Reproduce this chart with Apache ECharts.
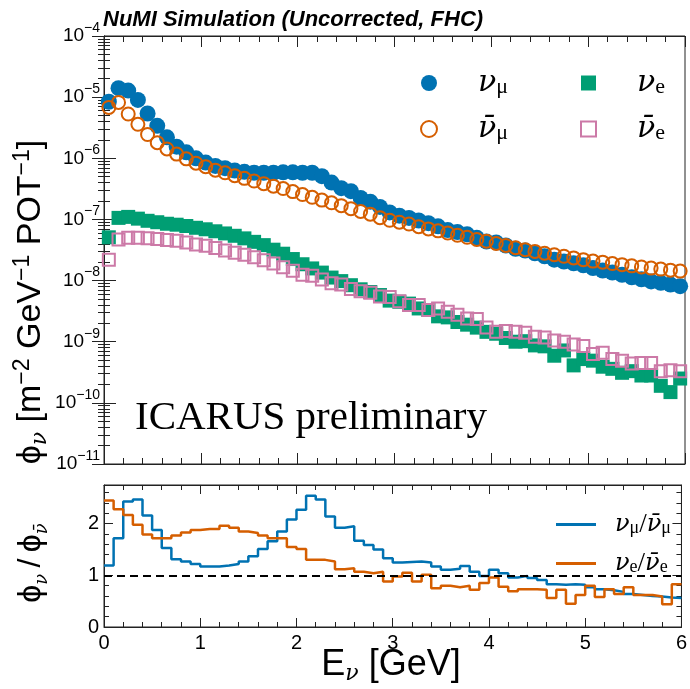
<!DOCTYPE html>
<html><head><meta charset="utf-8">
<script src="https://cdn.jsdelivr.net/npm/echarts@6/dist/echarts.min.js"></script>
<style>html,body{margin:0;padding:0;background:#fff}#c{width:690px;height:689px}</style>
</head><body><div id="c"></div>
<script>
// ---- data ----
const binEdges = [0,0.1,0.2,0.3,0.4,0.5,0.6,0.7,0.8,0.9,1.0,1.1,1.2,1.3,1.4,1.5,1.6,1.7,1.8,1.9,2.0,2.1,2.2,2.3,2.4,2.5,2.6,2.7,2.8,2.9,3.0,3.1,3.2,3.3,3.4,3.5,3.6,3.7,3.8,3.9,4.0,4.1,4.2,4.3,4.4,4.5,4.6,4.7,4.8,4.9,5.0,5.1,5.2,5.3,5.4,5.5,5.6,5.7,5.8,5.9,6.0];
const fluxNumu = [8.4e-6,1.40e-5,1.28e-5,9.0e-6,5.4e-6,3.4e-6,2.2e-6,1.55e-6,1.25e-6,1.0e-6,
 8.5e-7,7.5e-7,6.9e-7,6.3e-7,6.0e-7,5.8e-7,5.8e-7,5.8e-7,5.9e-7,5.9e-7,
 5.8e-7,5.8e-7,5.1e-7,4.0e-7,3.25e-7,2.9e-7,2.25e-7,1.95e-7,1.6e-7,1.3e-7,
 1.15e-7,1.06e-7,9.6e-8,8.7e-8,7.7e-8,6.7e-8,6.2e-8,5.7e-8,5.0e-8,4.35e-8,
 4.2e-8,3.75e-8,3.3e-8,3.1e-8,2.8e-8,2.5e-8,2.2e-8,2.05e-8,1.92e-8,1.78e-8,
 1.6e-8,1.46e-8,1.35e-8,1.24e-8,1.13e-8,1.05e-8,9.7e-9,9.2e-9,8.6e-9,8.1e-9];
const fluxNumubar = [6.8e-6,8.2e-6,5.3e-6,3.6e-6,2.45e-6,1.8e-6,1.42e-6,1.17e-6,9.8e-7,8.3e-7,
 7.3e-7,6.4e-7,5.8e-7,5.2e-7,4.7e-7,4.25e-7,3.85e-7,3.5e-7,3.2e-7,2.85e-7,
 2.55e-7,2.3e-7,2.07e-7,1.87e-7,1.68e-7,1.5e-7,1.35e-7,1.22e-7,1.07e-7,9.7e-8,
 9.0e-8,8.4e-8,7.6e-8,7.0e-8,6.5e-8,6.0e-8,5.5e-8,5.1e-8,4.7e-8,4.4e-8,
 4.05e-8,3.75e-8,3.45e-8,3.2e-8,3.0e-8,2.8e-8,2.65e-8,2.5e-8,2.35e-8,2.2e-8,
 2.08e-8,2.0e-8,1.9e-8,1.82e-8,1.74e-8,1.67e-8,1.6e-8,1.54e-8,1.48e-8,1.43e-8];
const fluxNue = [5.1e-8,1.06e-7,1.1e-7,1.03e-7,9.5e-8,9.0e-8,8.5e-8,8.2e-8,7.8e-8,7.3e-8,
 6.9e-8,6.4e-8,5.9e-8,5.4e-8,4.9e-8,4.3e-8,3.8e-8,3.2e-8,2.75e-8,2.25e-8,
 1.85e-8,1.58e-8,1.35e-8,1.12e-8,9.8e-9,8.4e-9,7.2e-9,6.5e-9,5.8e-9,4.7e-9,
 4.5e-9,4.2e-9,3.5e-9,3.3e-9,2.6e-9,2.5e-9,2.1e-9,1.9e-9,1.7e-9,1.45e-9,
 1.35e-9,1.15e-9,1.0e-9,1.02e-9,8.7e-10,8.4e-10,5.9e-10,7.2e-10,4.1e-10,5.2e-10,
 4.9e-10,3.9e-10,3.6e-10,3.1e-10,3.3e-10,2.8e-10,2.8e-10,1.9e-10,1.5e-10,2.5e-10];
const fluxNuebar = [2.2e-8,4.7e-8,5.0e-8,5.0e-8,4.9e-8,4.8e-8,4.6e-8,4.5e-8,4.2e-8,3.9e-8,
 3.7e-8,3.4e-8,3.1e-8,2.85e-8,2.65e-8,2.4e-8,2.15e-8,1.9e-8,1.65e-8,1.45e-8,
 1.25e-8,1.2e-8,1.04e-8,9.0e-9,8.6e-9,7.3e-9,6.7e-9,6.3e-9,5.5e-9,5.4e-9,
 4.6e-9,4.0e-9,4.0e-9,3.3e-9,3.5e-9,3.1e-9,2.75e-9,2.4e-9,2.35e-9,1.7e-9,
 1.45e-9,1.5e-9,1.45e-9,1.4e-9,1.2e-9,1.17e-9,1.05e-9,1.0e-9,9.0e-10,8.5e-10,
 6.3e-10,6.6e-10,5.2e-10,4.9e-10,4.4e-10,4.5e-10,4.5e-10,3.3e-10,3.4e-10,3.3e-10];
const ratioMu = [1.19,1.72,2.43,2.47,2.16,1.88,1.53,1.31,1.27,1.22,
 1.17,1.17,1.19,1.22,1.27,1.37,1.51,1.66,1.85,2.08,
 2.27,2.54,2.47,2.14,1.92,1.95,1.67,1.59,1.50,1.33,
 1.25,1.26,1.27,1.25,1.17,1.11,1.13,1.18,1.07,0.99,
 1.11,1.04,0.96,0.99,0.95,0.91,0.83,0.82,0.83,0.82,
 0.77,0.73,0.71,0.68,0.64,0.62,0.60,0.59,0.57,0.56];
const ratioE = [2.45,2.28,2.17,1.98,1.79,1.72,1.72,1.77,1.83,1.88,
 1.90,1.90,1.96,1.92,1.85,1.82,1.77,1.72,1.72,1.55,
 1.51,1.30,1.30,1.27,1.12,1.14,1.07,1.04,1.07,0.88,
 0.98,1.05,0.88,1.01,0.75,0.80,0.77,0.80,0.72,0.85,
 0.96,0.78,0.69,0.73,0.73,0.72,0.56,0.72,0.45,0.62,
 0.80,0.58,0.73,0.64,0.77,0.62,0.62,0.59,0.44,0.83];
const yTickExponents = [-11,-10,-9,-8,-7,-6,-5,-4];

// ---- build ----
const centers = binEdges.slice(0,-1).map((e,i)=>(e+binEdges[i+1])/2);
const pts = arr => arr.map((v,i)=>[centers[i], v]);
const steps = arr => { const d = arr.map((v,i)=>[binEdges[i], v]); d.push([binEdges[binEdges.length-1], arr[arr.length-1]]); return d; };

const C_BLUE='#0072B2', C_ORANGE='#D55E00', C_GREEN='#009E73', C_PINK='#CC79A7';
const SANS='Liberation Sans, Arial, Helvetica, DejaVu Sans, sans-serif';
const SERIF='Liberation Serif, Times New Roman, DejaVu Serif, serif';
const GREEK='DejaVu Serif, serif';

const chart = echarts.init(document.getElementById('c'), null, {renderer:'canvas'});

function xAx(grid, pos, labels){
  return {type:'value', gridIndex:grid, position:pos, min:0, max:6, interval:1,
    axisLine:{show:true, onZero:false, lineStyle:{color:'#222', width:1}},
    axisTick:{show:true, inside:true, length: grid===0?11:9, lineStyle:{color:'#222'}},
    minorTick:{show:true, splitNumber:5, length: grid===0?6:5, lineStyle:{color:'#222'}},
    splitLine:{show:false}, minorSplitLine:{show:false},
    axisLabel:{show:labels, fontFamily:SANS, fontSize:20, color:'#000', margin:6,
      formatter: v => String(v)}};
}
function yLog(pos, labels){
  return {type:'log', gridIndex:0, position:pos, min:1e-11, max:1e-4, logBase:10, splitNumber:7,
    axisLine:{show:true, lineStyle:{color:'#222', width:1}},
    axisTick:{show:true, inside:true, length:12, lineStyle:{color:'#222'}},
    minorTick:{show:true, splitNumber:9, length:6, lineStyle:{color:'#222'}},
    splitLine:{show:false}, minorSplitLine:{show:false},
    axisLabel:{show:labels, margin:4, color:'#000',
      formatter: v => { const e = Math.round(Math.log10(v)); return yTickExponents.includes(e) ? '{b|10}{e|\u2212'+(-e)+'}' : ''; },
      rich:{b:{fontFamily:SANS, fontSize:19, lineHeight:30, color:'#000'},
            e:{fontFamily:SANS, fontSize:14, lineHeight:15, verticalAlign:'top', color:'#000'}}}};
}
function yRat(pos, labels){
  return {type:'value', gridIndex:1, position:pos, min:0, max:2.75, interval:1,
    axisLine:{show:true, onZero:false, lineStyle:{color:'#222', width:1}},
    axisTick:{show:true, inside:true, length:9, lineStyle:{color:'#222'}},
    minorTick:{show:true, splitNumber:5, length:5, lineStyle:{color:'#222'}},
    splitLine:{show:false}, minorSplitLine:{show:false},
    axisLabel:{show:labels, showMaxLabel:false, fontFamily:SANS, fontSize:20, color:'#000', margin:5}};
}

const legRich = {
  pad:{width:36},
  n:{fontFamily:GREEK, fontStyle:'italic', fontSize:30, lineHeight:30, color:'#000'},
  s:{fontFamily:SERIF, fontSize:22, lineHeight:22, verticalAlign:'bottom', color:'#000'}
};
const legRich2 = {
  pad:{width:14},
  n:{fontFamily:GREEK, fontStyle:'italic', fontSize:24, lineHeight:26, color:'#000'},
  m:{fontFamily:SERIF, fontSize:27, lineHeight:26, color:'#000'},
  s:{fontFamily:SERIF, fontSize:18, lineHeight:18, verticalAlign:'bottom', color:'#000'}
};
const legText = {
  numu:'{pad| }{n|\u03bd}{s|\u03bc}',
  numubar:'{pad| }{n|\u03bd\u0304}{s|\u03bc}',
  nue:'{pad| }{n|\u03bd}{s|e}',
  nuebar:'{pad| }{n|\u03bd\u0304}{s|e}',
  rmu:'{pad| }{n|\u03bd}{s|\u03bc}{m|/}{n|\u03bd\u0304}{s|\u03bc}',
  re:'{pad| }{n|\u03bd}{s|e}{m|/}{n|\u03bd\u0304}{s|e}'
};

const option = {
  animation:false,
  backgroundColor:'#fff',
  title:{text:'NuMI Simulation (Uncorrected, FHC)', left:103, top:8, padding:0,
    textStyle:{fontFamily:SANS, fontWeight:'bold', fontStyle:'italic', fontSize:22, color:'#000', lineHeight:24}},
  grid:[
    {left:104, right:5, top:36, height:428, show:true, borderColor:'#222', borderWidth:1, backgroundColor:'transparent'},
    {left:104, right:5, top:485, height:142, show:true, borderColor:'#222', borderWidth:1, backgroundColor:'transparent'}
  ],
  xAxis:[xAx(0,'bottom',false), xAx(0,'top',false), xAx(1,'bottom',true), xAx(1,'top',false)],
  yAxis:[yLog('left',true), yLog('right',false), yRat('left',true), yRat('right',false)],
  legend:[
    {orient:'vertical', left:415, top:63, itemWidth:16, itemHeight:16, itemGap:16, selectedMode:false,
     data:[{name:'numu', icon:'circle', itemStyle:{color:C_BLUE}},
           {name:'numubar', icon:'circle', itemStyle:{color:'rgba(0,0,0,0)', borderColor:C_ORANGE, borderWidth:2}}],
     formatter: n => legText[n], textStyle:{rich:legRich}},
    {orient:'vertical', left:575, top:63, itemWidth:15, itemHeight:15, itemGap:16, selectedMode:false,
     data:[{name:'nue', icon:'rect', itemStyle:{color:C_GREEN}},
           {name:'nuebar', icon:'rect', itemStyle:{color:'rgba(0,0,0,0)', borderColor:C_PINK, borderWidth:2}}],
     formatter: n => legText[n], textStyle:{rich:legRich}},
    {orient:'vertical', left:551, top:506, itemWidth:40, itemHeight:3, itemGap:12, selectedMode:false,
     data:[{name:'rmu', icon:'rect', itemStyle:{color:C_BLUE}}, {name:'re', icon:'rect', itemStyle:{color:C_ORANGE}}],
     formatter: n => legText[n], textStyle:{rich:legRich2}}
  ],
  series:[
    {name:'numu', type:'scatter', xAxisIndex:0, yAxisIndex:0, symbol:'circle', symbolSize:16,
     itemStyle:{color:C_BLUE, opacity:1}, data:pts(fluxNumu)},
    {name:'numubar', type:'scatter', xAxisIndex:0, yAxisIndex:0, symbol:'circle', symbolSize:13,
     itemStyle:{color:'rgba(0,0,0,0)', borderColor:C_ORANGE, borderWidth:2, opacity:1}, data:pts(fluxNumubar)},
    {name:'nue', type:'scatter', xAxisIndex:0, yAxisIndex:0, symbol:'rect', symbolSize:14,
     itemStyle:{color:C_GREEN, opacity:1}, data:pts(fluxNue)},
    {name:'nuebar', type:'scatter', xAxisIndex:0, yAxisIndex:0, symbol:'rect', symbolSize:12,
     itemStyle:{color:'rgba(0,0,0,0)', borderColor:C_PINK, borderWidth:2, opacity:1}, data:pts(fluxNuebar)},
    {name:'rmu', type:'line', xAxisIndex:2, yAxisIndex:2, step:'end', symbol:'none',
     lineStyle:{color:C_BLUE, width:2.5}, itemStyle:{color:C_BLUE}, data:steps(ratioMu)},
    {name:'re', type:'line', xAxisIndex:2, yAxisIndex:2, step:'end', symbol:'none',
     lineStyle:{color:C_ORANGE, width:2.5}, itemStyle:{color:C_ORANGE}, data:steps(ratioE),
     markLine:{silent:true, symbol:'none', label:{show:false},
       lineStyle:{color:'#000', type:[8,5], width:2}, data:[{yAxis:1}]}}
  ],
  graphic:[
    {type:'text', x:135, y:418, silent:true,
     style:{text:'ICARUS preliminary', fontFamily:SERIF, fontSize:41, fill:'#000', align:'left', verticalAlign:'middle'}},
    {type:'text', x:31, y:302, rotation:Math.PI/2, silent:true,
     style:{text:'{t|\u03d5}{s|\u03bd}{t| [m}{p|\u22122}{t| GeV}{p|\u22121}{t| POT}{p|\u22121}{t|]}', align:'center', verticalAlign:'middle',
       rich:{t:{fontFamily:SANS, fontSize:34, lineHeight:40, fill:'#000'},
             s:{fontFamily:GREEK, fontStyle:'italic', fontSize:22, lineHeight:24, verticalAlign:'bottom', fill:'#000'},
             p:{fontFamily:SANS, fontSize:23, lineHeight:24, verticalAlign:'top', fill:'#000'}}}},
    {type:'text', x:31, y:563, rotation:Math.PI/2, silent:true,
     style:{text:'{t|\u03d5}{s|\u03bd}{t|\u2009/\u2009\u03d5}{s|\u03bd\u0304}', align:'center', verticalAlign:'middle',
       rich:{t:{fontFamily:SANS, fontSize:32, lineHeight:40, fill:'#000'},
             s:{fontFamily:GREEK, fontStyle:'italic', fontSize:18, lineHeight:24, verticalAlign:'bottom', fill:'#000'}}}},
    {type:'text', x:391, y:665, silent:true,
     style:{text:'{t|E}{s|\u03bd}{t| [GeV]}', align:'center', verticalAlign:'middle',
       rich:{t:{fontFamily:SANS, fontSize:36, lineHeight:40, fill:'#000'},
             s:{fontFamily:GREEK, fontStyle:'italic', fontSize:22, lineHeight:24, verticalAlign:'bottom', fill:'#000'}}}}
  ]
};
chart.setOption(option);
</script></body></html>
